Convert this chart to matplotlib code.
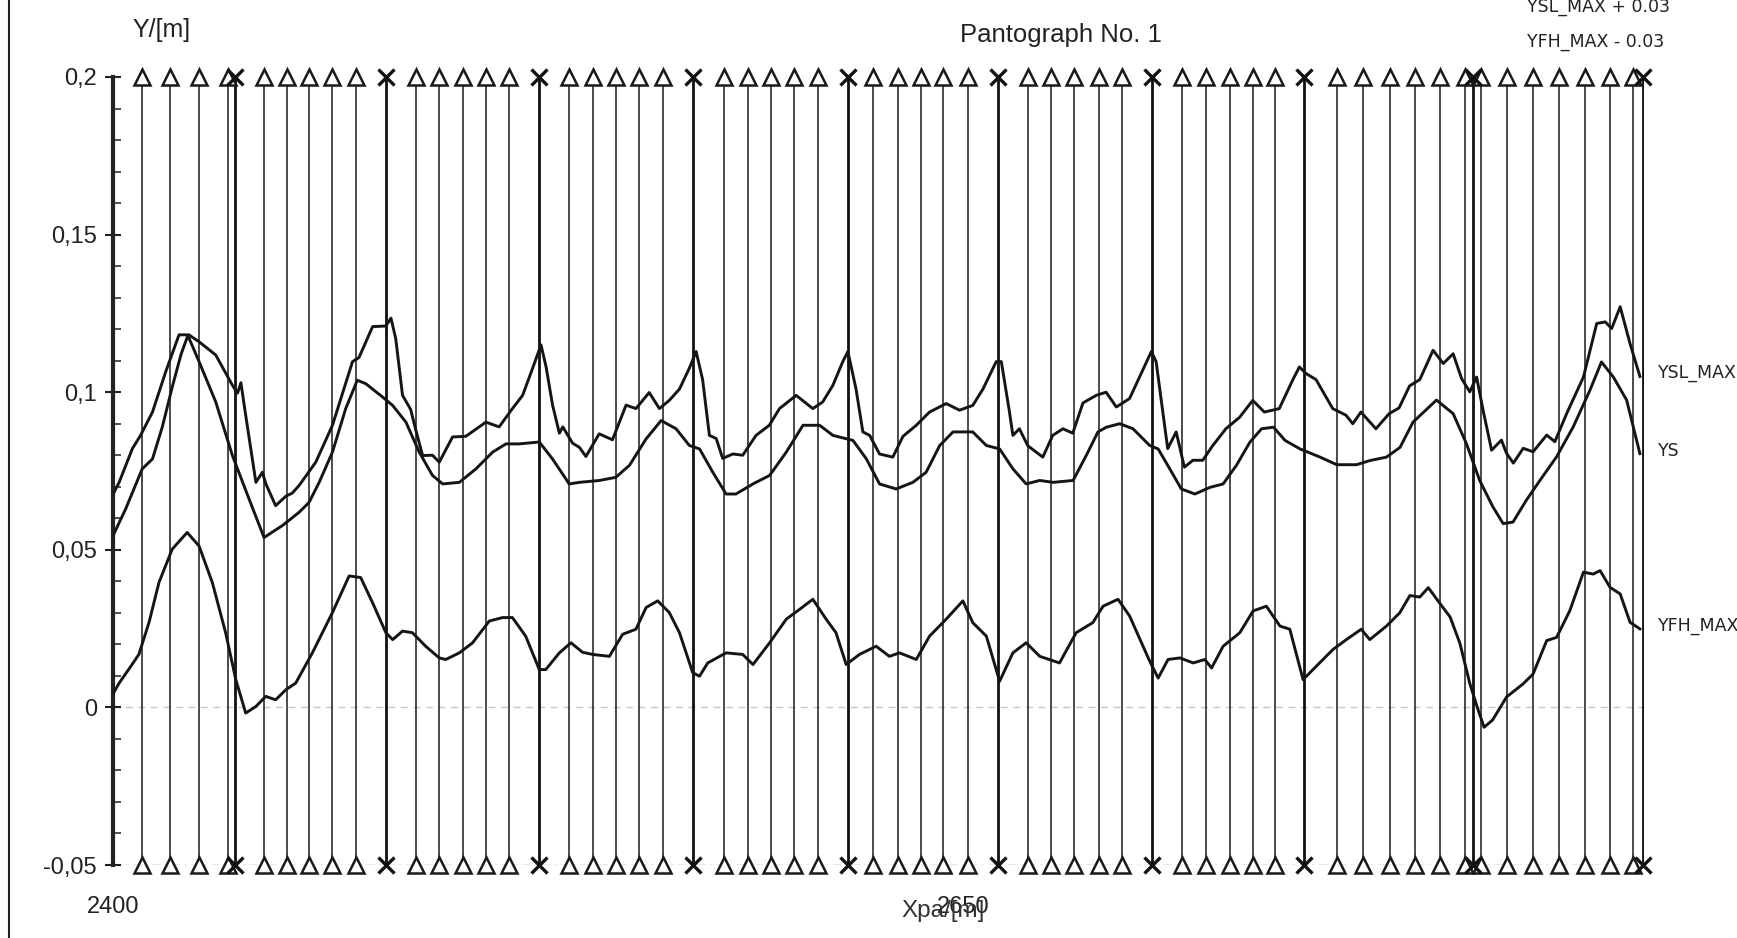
import matplotlib
matplotlib.use("Agg")
import matplotlib.pyplot as plt
from matplotlib.lines import Line2D
from matplotlib.ticker import MultipleLocator
import matplotlib.transforms as mtransforms

# ---------------- data ----------------
ysl_x = [2399.3, 2401.8, 2405.7, 2408.1, 2411.6, 2415.5, 2419.4, 2422.3, 2425.3, 2430.2,
         2435.1, 2436.6, 2437.6, 2439.0, 2442.0, 2443.9, 2444.9, 2447.8, 2450.8, 2452.7,
         2454.7, 2459.6, 2464.5, 2470.4, 2472.3, 2476.3, 2480.2, 2481.7, 2483.1, 2485.1,
         2487.5, 2489.0, 2491.0, 2493.9, 2495.9, 2499.8, 2503.7, 2509.6, 2513.5, 2517.4,
         2520.4, 2523.3, 2525.8, 2527.3, 2529.2, 2531.2, 2532.2, 2535.1, 2537.1, 2539.0,
         2542.9, 2546.8, 2550.8, 2553.7, 2557.6, 2560.6, 2563.5, 2566.5, 2569.4, 2571.4,
         2573.3, 2575.3, 2577.3, 2579.2, 2582.2, 2585.1, 2589.0, 2592.9, 2595.9, 2600.8,
         2605.7, 2608.6, 2611.6, 2614.5, 2616.0, 2618.4, 2620.4, 2622.4, 2625.3, 2629.2,
         2632.2, 2636.1, 2640.0, 2644.9, 2648.8, 2652.7, 2655.7, 2659.6, 2661.1, 2663.5,
         2664.5, 2666.4, 2668.9, 2673.3, 2676.2, 2679.2, 2682.1, 2685.1, 2689.0, 2691.9,
         2694.9, 2698.8, 2705.2, 2706.6, 2710.0, 2712.5, 2714.9, 2717.4, 2720.3, 2723.2,
         2727.1, 2731.1, 2735.0, 2738.4, 2742.8, 2746.8, 2748.7, 2750.7, 2753.6, 2758.5,
         2762.4, 2764.4, 2766.8, 2771.2, 2775.1, 2778.0, 2781.1, 2784.1, 2788.0, 2791.0,
         2793.9, 2796.4, 2798.8, 2800.8, 2802.7, 2805.2, 2808.1, 2809.6, 2811.6, 2814.5,
         2817.4, 2821.4, 2823.8, 2827.3, 2832.2, 2836.1, 2838.6, 2840.5, 2843.0, 2845.9,
         2848.8]
ysl_y = [0.0661, 0.0714, 0.0821, 0.0863, 0.0937, 0.1065, 0.1182, 0.1182, 0.1160, 0.1118,
         0.1022, 0.0997, 0.1030, 0.0927, 0.0714, 0.0746, 0.0710, 0.0640, 0.0670, 0.0680,
         0.0704, 0.0778, 0.0895, 0.1097, 0.1110, 0.1208, 0.1210, 0.1235, 0.1170, 0.0990,
         0.0945, 0.0880, 0.0799, 0.0800, 0.0778, 0.0858, 0.0860, 0.0905, 0.0890, 0.0948,
         0.0990, 0.1075, 0.1150, 0.1080, 0.0959, 0.0870, 0.0890, 0.0838, 0.0825, 0.0796,
         0.0868, 0.0849, 0.0959, 0.0948, 0.0999, 0.0948, 0.0974, 0.1010, 0.1076, 0.1129,
         0.1040, 0.0863, 0.0853, 0.0790, 0.0804, 0.0800, 0.0863, 0.0895, 0.0948, 0.0990,
         0.0948, 0.0969, 0.1022, 0.1097, 0.1129, 0.1010, 0.0874, 0.0863, 0.0804, 0.0794,
         0.0860, 0.0895, 0.0937, 0.0964, 0.0943, 0.0958, 0.1010, 0.1097, 0.1097, 0.0937,
         0.0863, 0.0884, 0.0830, 0.0794, 0.0863, 0.0884, 0.0870, 0.0966, 0.0990, 0.1000,
         0.0953, 0.0980, 0.1129, 0.1097, 0.0821, 0.0874, 0.0762, 0.0784, 0.0784, 0.0830,
         0.0884, 0.0920, 0.0974, 0.0937, 0.0948, 0.1040, 0.1080, 0.1059, 0.1040, 0.0948,
         0.0927, 0.0900, 0.0937, 0.0884, 0.0932, 0.0950, 0.1020, 0.1040, 0.1133, 0.1091,
         0.1122, 0.1043, 0.1001, 0.1048, 0.0943, 0.0816, 0.0848, 0.0806, 0.0775, 0.0822,
         0.0811, 0.0864, 0.0843, 0.0933, 0.1048, 0.1218, 0.1223, 0.1202, 0.1271, 0.1154,
         0.1050]

ys_x = [2399.3, 2403.7, 2408.6, 2411.6, 2414.5, 2417.5, 2420.0, 2422.0, 2425.3, 2430.2,
        2435.1, 2440.0, 2444.4, 2449.8, 2454.7, 2457.6, 2460.6, 2464.5, 2468.4, 2471.8,
        2474.3, 2479.2, 2482.2, 2486.1, 2490.0, 2493.9, 2496.9, 2501.8, 2506.7, 2511.6,
        2515.5, 2519.4, 2525.3, 2529.2, 2534.1, 2537.1, 2543.0, 2547.8, 2551.8, 2556.7,
        2561.1, 2565.5, 2569.4, 2572.4, 2576.3, 2580.2, 2583.1, 2588.1, 2593.0, 2597.9,
        2602.8, 2607.7, 2611.6, 2617.5, 2621.4, 2625.3, 2630.2, 2635.1, 2639.0, 2643.0,
        2646.9, 2652.7, 2656.7, 2660.6, 2664.5, 2668.4, 2672.4, 2676.3, 2682.2, 2686.1,
        2689.5, 2692.0, 2695.9, 2699.8, 2704.7, 2707.2, 2710.6, 2714.0, 2718.0, 2722.4,
        2726.3, 2730.2, 2734.2, 2737.6, 2741.1, 2744.5, 2748.9, 2754.8, 2759.7, 2765.5,
        2769.4, 2774.3, 2778.3, 2782.1, 2789.0, 2793.9, 2797.8, 2801.7, 2805.6, 2808.6,
        2811.5, 2815.4, 2819.4, 2824.3, 2829.2, 2834.1, 2837.5, 2841.0, 2844.9, 2848.8]
ys_y = [0.0529, 0.0629, 0.0757, 0.0788, 0.0890, 0.1020, 0.1120, 0.1180, 0.1097, 0.0969,
        0.0799, 0.0661, 0.0539, 0.0577, 0.0619, 0.0650, 0.0714, 0.0810, 0.0948, 0.1038,
        0.1027, 0.0985, 0.0958, 0.0905, 0.0810, 0.0736, 0.0709, 0.0714, 0.0757, 0.0810,
        0.0836, 0.0836, 0.0842, 0.0788, 0.0709, 0.0714, 0.0720, 0.0730, 0.0768, 0.0852,
        0.0910, 0.0884, 0.0831, 0.0820, 0.0746, 0.0677, 0.0677, 0.0709, 0.0736, 0.0810,
        0.0895, 0.0895, 0.0863, 0.0847, 0.0789, 0.0709, 0.0693, 0.0714, 0.0746, 0.0831,
        0.0874, 0.0874, 0.0831, 0.0820, 0.0757, 0.0709, 0.0720, 0.0714, 0.0720, 0.0800,
        0.0874, 0.0889, 0.0900, 0.0884, 0.0831, 0.0820, 0.0757, 0.0693, 0.0677, 0.0698,
        0.0709, 0.0768, 0.0842, 0.0884, 0.0889, 0.0847, 0.0820, 0.0794, 0.0770, 0.0770,
        0.0783, 0.0794, 0.0825, 0.0905, 0.0975, 0.0932, 0.0837, 0.0720, 0.0636, 0.0583,
        0.0588, 0.0657, 0.0720, 0.0795, 0.0890, 0.1006, 0.1096, 0.1048, 0.0975, 0.0805]

yfh_x = [2399.3, 2401.8, 2404.7, 2407.6, 2410.6, 2413.5, 2417.4, 2421.8, 2425.3, 2429.2,
         2433.1, 2436.1, 2439.0, 2442.0, 2444.9, 2447.8, 2450.8, 2453.7, 2458.6, 2464.5,
         2469.4, 2472.8, 2476.3, 2480.2, 2482.2, 2485.1, 2488.0, 2491.9, 2495.9, 2497.8,
         2501.8, 2505.7, 2510.6, 2514.5, 2517.4, 2521.3, 2525.3, 2527.2, 2531.2, 2534.6,
         2538.0, 2541.0, 2545.9, 2549.8, 2553.7, 2556.7, 2560.1, 2563.5, 2566.5, 2570.4,
         2572.4, 2574.8, 2580.2, 2585.1, 2588.1, 2593.0, 2597.9, 2601.8, 2605.7, 2609.6,
         2612.5, 2615.5, 2619.4, 2624.3, 2628.2, 2631.2, 2636.1, 2640.0, 2644.9, 2649.8,
         2652.7, 2656.7, 2660.6, 2664.5, 2668.4, 2672.4, 2678.2, 2683.1, 2688.0, 2691.0,
         2695.4, 2698.8, 2704.7, 2707.2, 2710.1, 2713.6, 2717.5, 2720.9, 2722.9, 2726.3,
         2731.2, 2735.1, 2739.0, 2743.0, 2745.9, 2749.8, 2752.7, 2758.6, 2762.5, 2766.9,
         2769.4, 2774.3, 2778.2, 2781.2, 2784.1, 2786.6, 2790.0, 2793.0, 2795.9, 2798.8,
         2801.0, 2803.0, 2805.5, 2809.6, 2814.5, 2817.4, 2821.4, 2824.3, 2828.2, 2832.2,
         2835.1, 2837.1, 2840.0, 2843.0, 2845.9, 2848.8]
yfh_y = [0.0030, 0.0077, 0.0122, 0.0168, 0.0270, 0.0396, 0.0502, 0.0555, 0.0512, 0.0396,
         0.0237, 0.0088, -0.0018, 0.0003, 0.0035, 0.0024, 0.0056, 0.0077, 0.0173, 0.0301,
         0.0417, 0.0412, 0.0332, 0.0237, 0.0215, 0.0242, 0.0237, 0.0194, 0.0157, 0.0152,
         0.0173, 0.0205, 0.0274, 0.0285, 0.0285, 0.0226, 0.0120, 0.0120, 0.0173, 0.0205,
         0.0175, 0.0168, 0.0162, 0.0232, 0.0248, 0.0317, 0.0338, 0.0301, 0.0237, 0.0110,
         0.0099, 0.0141, 0.0173, 0.0168, 0.0136, 0.0205, 0.0280, 0.0311, 0.0343, 0.0280,
         0.0237, 0.0136, 0.0168, 0.0194, 0.0162, 0.0173, 0.0152, 0.0226, 0.0280, 0.0338,
         0.0269, 0.0226, 0.0083, 0.0173, 0.0205, 0.0162, 0.0141, 0.0237, 0.0269, 0.0321,
         0.0343, 0.0290, 0.0147, 0.0093, 0.0152, 0.0157, 0.0141, 0.0152, 0.0125, 0.0194,
         0.0237, 0.0306, 0.0321, 0.0258, 0.0248, 0.0088, 0.0120, 0.0184, 0.0215, 0.0248,
         0.0215, 0.0258, 0.0300, 0.0355, 0.0350, 0.0380, 0.0330, 0.0287, 0.0203, 0.0076,
         0.0000, -0.0063, -0.0040, 0.0033, 0.0075, 0.0106, 0.0212, 0.0222, 0.0307, 0.0429,
         0.0423, 0.0434, 0.0381, 0.0360, 0.0270, 0.0249]

droppers = [2408.4, 2416.9, 2425.3, 2433.8, 2444.4, 2451.0, 2457.6, 2464.3, 2471.3,
            2489.0, 2495.9, 2502.8, 2509.6, 2516.5, 2534.1, 2541.0, 2547.8, 2554.7,
            2561.6, 2579.7, 2586.6, 2593.4, 2600.3, 2607.2, 2623.5, 2630.6, 2637.4,
            2644.1, 2651.2, 2668.8, 2675.6, 2682.6, 2689.7, 2696.5, 2714.1, 2721.2,
            2728.2, 2735.0, 2741.5, 2759.7, 2767.4, 2775.3, 2782.6, 2790.0, 2797.4,
            2802.1, 2809.7, 2817.4, 2825.0, 2832.6, 2840.0, 2846.8]
masts = [2435.9, 2480.1, 2525.3, 2570.4, 2616.0, 2660.0, 2705.3, 2750.0, 2799.7, 2849.7]

y_ticks = [-0.05, 0.0, 0.05, 0.1, 0.15, 0.2]
y_tick_labels = ["-0,05", "0", "0,05", "0,1", "0,15", "0,2"]
x_ticks = [2400, 2650]
x_tick_labels = ["2400", "2650"]
series_names = ["YSL_MAX", "YS", "YFH_MAX"]

# ---------------- figure ----------------
plt.rcParams['font.family'] = ['Liberation Sans', 'DejaVu Sans']
W, H = 1737, 938
fig = plt.figure(figsize=(W / 100, H / 100), dpi=100)
left_px, right_px, top_px, bot_px = 113, 1644, 77, 865
ax = fig.add_axes([left_px / W, 1 - bot_px / H, (right_px - left_px) / W, (bot_px - top_px) / H])
ax.set_xlim(2400, 2850)
ax.set_ylim(-0.05, 0.2)

# reference dashed lines
ax.axhline(-0.05, color='#8a8a8a', lw=1.0, dashes=(6, 3, 2, 3), zorder=1)
ax.axhline(0.0, color='#c8c8c8', lw=1.0, dashes=(5, 4), zorder=1)

# droppers and masts
ax.vlines(droppers, -0.05, 0.2, colors='#1a1a1a', lw=1.1, zorder=2)
ax.vlines(masts, -0.05, 0.2, colors='#111111', lw=2.0, zorder=2)
for yv in (0.2, -0.05):
    ax.plot(droppers, [yv] * len(droppers), linestyle='none', marker='^', ms=11,
            mfc='white', mec='#1a1a1a', mew=1.8, clip_on=False, zorder=4)
    ax.plot(masts, [yv] * len(masts), linestyle='none', marker='x', ms=11,
            mec='#111111', mew=2.4, clip_on=False, zorder=5)

# curves
for xs, ys in ((ysl_x, ysl_y), (ys_x, ys_y), (yfh_x, yfh_y)):
    ax.plot(xs, ys, color='#151515', lw=2.1, zorder=3, solid_joinstyle='round')

# end labels
trans = mtransforms.blended_transform_factory(ax.transAxes, ax.transData)
for name, ys in zip(series_names, (ysl_y, ys_y, yfh_y)):
    ax.text(1.009, ys[-1] + 0.001, name, transform=trans, ha='left', va='center',
            fontsize=12.5, family=['Liberation Sans Narrow', 'DejaVu Sans'],
            color='#222222')

# axes styling
for s in ('top', 'right', 'bottom'):
    ax.spines[s].set_visible(False)
ax.spines['left'].set_linewidth(3.0)
ax.spines['left'].set_color('#222222')
ax.set_yticks(y_ticks)
ax.set_yticklabels(y_tick_labels)
ax.yaxis.set_minor_locator(MultipleLocator(0.01))
ax.tick_params(axis='y', which='major', direction='inout', length=11, width=1.5,
               pad=6, labelsize=17, colors='#222222')
ax.tick_params(axis='y', which='minor', direction='in', length=6, width=1.2, colors='#333333')
ax.set_xticks(x_ticks)
ax.set_xticklabels(x_tick_labels)
ax.tick_params(axis='x', length=0, pad=22, labelsize=17, colors='#222222')

ax.set_xlabel("Xpa/[m]", fontsize=17.5, color='#333333')
ax.xaxis.set_label_coords((943 - left_px) / (right_px - left_px), -0.045)
ax.set_ylabel("Y/[m]", fontsize=18, rotation=0, ha='center', va='center', color='#222222')
ax.yaxis.set_label_coords((162 - left_px) / (right_px - left_px), (bot_px - 30) / (bot_px - top_px))
ax.text((1061 - left_px) / (right_px - left_px), (bot_px - 35) / (bot_px - top_px),
        "Pantograph No. 1", transform=ax.transAxes, ha='center', va='center',
        fontsize=18.5, color='#222222')

fig.text(1527 / W, 1 - 7 / H, "YSL_MAX + 0.03", ha='left', va='center', fontsize=12.5,
         family=['Liberation Sans Narrow', 'DejaVu Sans'], color='#222222')
fig.text(1527 / W, 1 - 42 / H, "YFH_MAX - 0.03", ha='left', va='center', fontsize=12.5,
         family=['Liberation Sans Narrow', 'DejaVu Sans'], color='#222222')

fig.add_artist(Line2D([9 / W, 9 / W], [0, 1], transform=fig.transFigure, color='#222222', lw=1.5))

fig.savefig("out.png", dpi=100, facecolor='white')
